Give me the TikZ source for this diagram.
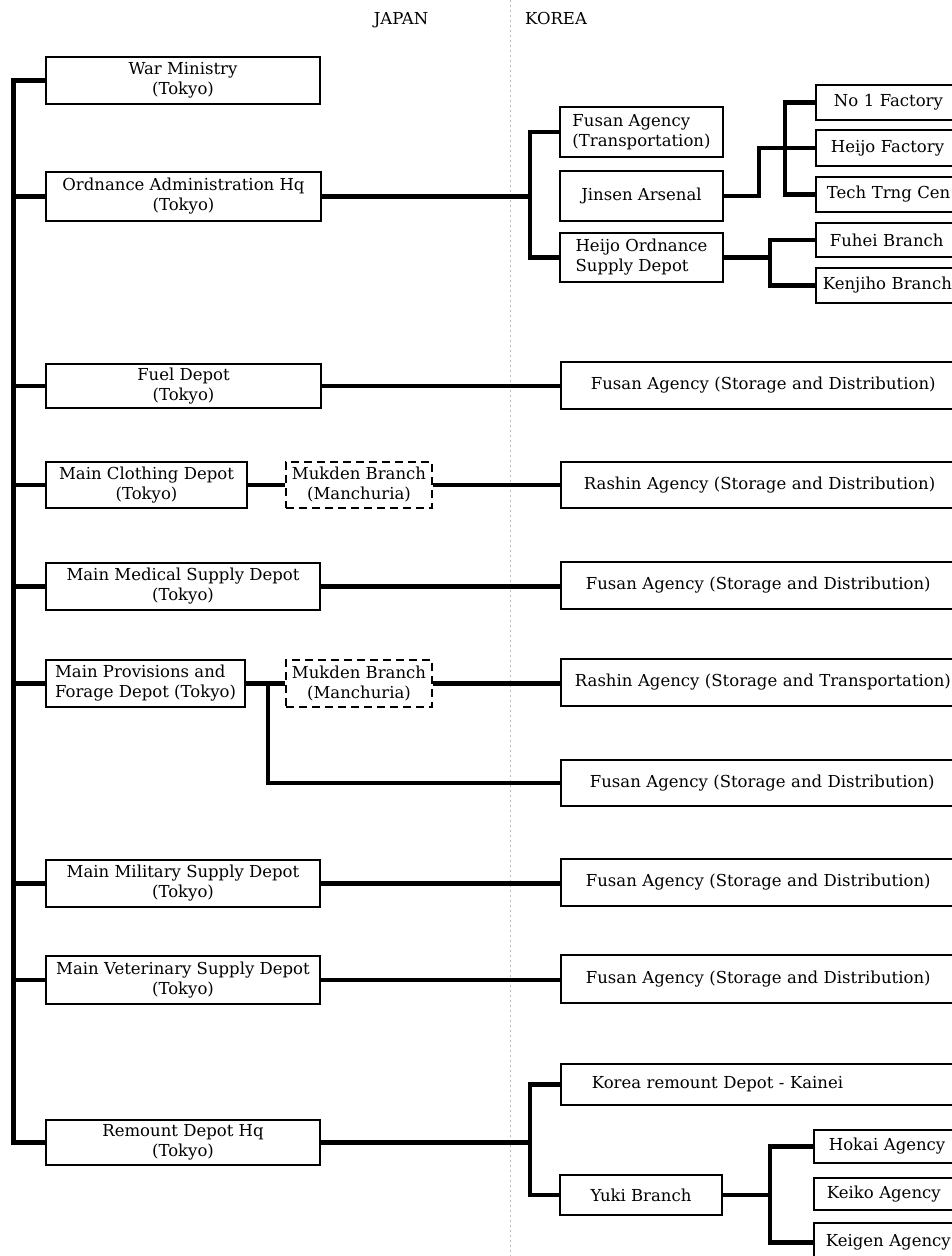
\documentclass[tikz,border=0pt]{standalone}
\usepackage{fontspec}
\setmainfont{DejaVu Serif}
\newcommand\bx[7][]{%
 \pgfmathsetmacro\cx{(#3+#5)/2}\pgfmathsetmacro\cy{(#4+#6)/2}%
 \pgfmathsetmacro\bw{#5-#3}\pgfmathsetmacro\bh{#6-#4}%
 \node[box,#1,minimum width=\bw pt,minimum height=\bh pt] (#2) at (\cx,\cy) {#7};}
\newcommand\rbx[6]{%
 \pgfmathsetmacro\cy{(#3+#4)/2}\pgfmathsetmacro\bh{#4-#3}%
 \node[rbox,inner xsep=#5pt,minimum height=\bh pt] (#1) at (#2,\cy) {#6};}
\begin{document}
\begin{tikzpicture}[x=1pt,y=-1pt,
  txt/.style={font=\fontsize{16.5}{20}\selectfont},
  box/.style={txt,draw,line width=1.8pt,rectangle,inner sep=0pt,align=center},
  dbox/.style={dash pattern=on 8pt off 5pt},
  rbox/.style={txt,draw,line width=1.8pt,rectangle,inner ysep=0pt,anchor=west,align=left,text width=420pt},
  conn/.style={line width=4.2pt,line join=miter},
  trunk/.style={line width=5pt,line join=miter}]
\clip (0,0) rectangle (952,1256);
\fill[white] (0,0) rectangle (952,1256);
\draw[gray!55,line width=0.6pt,dash pattern=on 2pt off 3pt] (510,0) -- (510,1256);
\node[txt] (jp) at (401,20) {JAPAN};
\node[txt] (kr) at (556,18) {KOREA};
% left column
\bx{wm}{46}{57}{320}{104}{War Ministry\\(Tokyo)}
\bx{oa}{46}{172}{321}{221}{Ordnance Administration Hq\\(Tokyo)}
\bx{fuel}{46}{364}{321}{408}{Fuel Depot\\(Tokyo)}
\bx{cloth}{46}{462}{247}{508}{Main Clothing Depot\\(Tokyo)}
\bx[dbox]{mukA}{286}{462}{432}{508}{Mukden Branch\\(Manchuria)}
\bx{med}{46}{563}{320}{610}{Main Medical Supply Depot\\(Tokyo)}
\bx[align=left]{prov}{46}{660}{245}{707}{Main Provisions and\\Forage Depot (Tokyo)}
\bx[dbox]{mukB}{286}{660}{432}{707}{Mukden Branch\\(Manchuria)}
\bx{mil}{46}{860}{320}{907}{Main Military Supply Depot\\(Tokyo)}
\bx{vet}{46}{956}{320}{1004}{Main Veterinary Supply Depot\\(Tokyo)}
\bx{rem}{46}{1120}{320}{1165}{Remount Depot Hq\\(Tokyo)}
% Korea, ordnance
\bx[align=left]{fusT}{560}{107}{723}{157}{Fusan Agency\\(Transportation)}
\bx{jin}{560}{171}{723}{221}{Jinsen Arsenal}
\bx[align=left]{hos}{560}{233}{723}{282}{Heijo Ordnance\\Supply Depot}
\rbx{noA}{815}{85}{120}{18}{No 1 Factory}
\rbx{hf}{815}{130}{166}{15}{Heijo Factory}
\rbx{tech}{815}{177}{212}{11}{Tech Trng Cen}
\rbx{fuhei}{815}{223}{257}{14}{Fuhei Branch}
\rbx{ken}{815}{268}{303}{7}{Kenjiho Branch}
% Korea, agencies
\rbx{fsA}{560}{362}{409}{30}{Fusan Agency (Storage and Distribution)}
\rbx{rsA}{560}{462}{508}{23}{Rashin Agency (Storage and Distribution)}
\rbx{fsB}{560}{562}{609}{25}{Fusan Agency (Storage and Distribution)}
\rbx{rsB}{560}{659}{706}{14}{Rashin Agency (Storage and Transportation)}
\rbx{fsC}{560}{760}{806}{29}{Fusan Agency (Storage and Distribution)}
\rbx{fsD}{560}{859}{906}{25}{Fusan Agency (Storage and Distribution)}
\rbx{fsE}{560}{955}{1003}{25}{Fusan Agency (Storage and Distribution)}
\rbx{kor}{560}{1064}{1105}{31}{Korea remount Depot - Kainei}
\bx{yuki}{560}{1175}{722}{1215}{Yuki Branch}
\rbx{hok}{813}{1130}{1163}{15}{Hokai Agency}
\rbx{kei}{813}{1178}{1210}{13}{Keiko Agency}
\rbx{keig}{813}{1223}{1262}{12}{Keigen Agency}
% bracket coordinates
\coordinate (tk) at (13,0);
\coordinate (bA) at (530,0);
\coordinate (bJ) at (785,0);
\coordinate (bH) at (770,0);
\coordinate (bP) at (268,0);
\coordinate (bY) at (770,0);
% trunk
\draw[trunk] (wm.west) -- (wm.west -| tk) |- (rem.west);
\foreach \n in {oa,fuel,cloth,med,prov,mil,vet}
  \draw[conn] (\n.west) -- (\n.west -| tk);
% ordnance
\draw[conn] (oa.east) -- (oa.east -| bA);
\draw[conn] (fusT.west) -- (fusT.west -| bA) -- (hos.west -| bA) -- (hos.west);
\draw[conn] (jin.east) -- ++(35,0) |- (hf.west);
\draw[conn] (noA.west) -- (noA.west -| bJ) -- (tech.west -| bJ) -- (tech.west);
\draw[conn] (hos.east) -- (hos.east -| bH);
\draw[conn] (fuhei.west) -- (fuhei.west -| bH) -- (ken.west -| bH) -- (ken.west);
% depots
\draw[conn] (fuel.east) -- (fuel.east -| fsA.west);
\draw[conn] (cloth.east) -- (mukA.west);
\draw[conn] (mukA.east) -- (mukA.east -| rsA.west);
\draw[conn] (med.east) -- (med.east -| fsB.west);
\draw[conn] (prov.east) -- (mukB.west);
\draw[conn] (mukB.east) -- (mukB.east -| rsB.west);
\draw[conn] (prov.east -| bP) |- (fsC.west);
\draw[conn] (mil.east) -- (mil.east -| fsD.west);
\draw[conn] (vet.east) -- (vet.east -| fsE.west);
% remount
\draw[conn] (rem.east) -- (rem.east -| bA);
\draw[conn] (kor.west) -- (kor.west -| bA) -- (yuki.west -| bA) -- (yuki.west);
\draw[conn] (yuki.east) -- (yuki.east -| bY);
\draw[conn] (hok.west) -- (hok.west -| bY) -- (keig.west -| bY) -- (keig.west);
\end{tikzpicture}
\end{document}
